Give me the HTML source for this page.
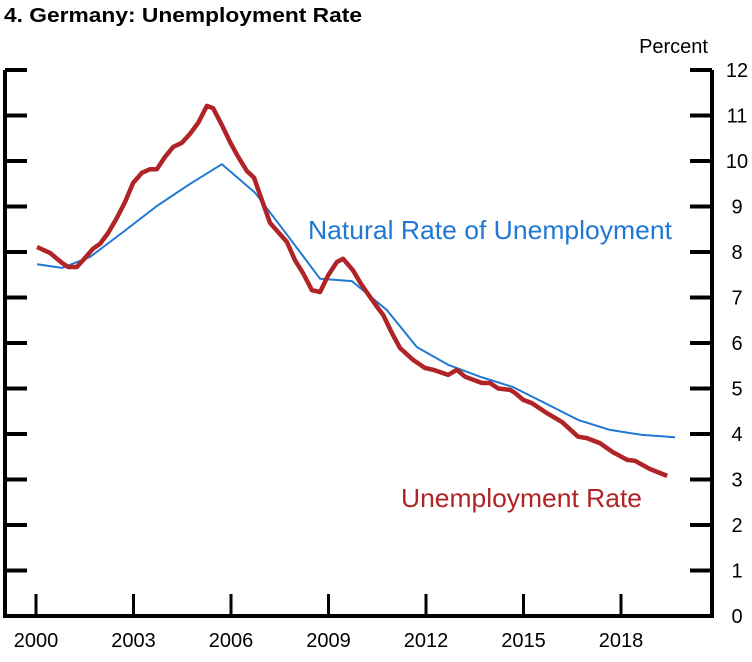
<!DOCTYPE html>
<html><head><meta charset="utf-8"><style>
body{margin:0;background:#fff;}
svg{display:block;font-family:"Liberation Sans",Arial,sans-serif;}
</style></head><body>
<svg id="chart" width="752" height="662">
<text x="4" y="22" font-size="20" font-weight="bold" textLength="358" lengthAdjust="spacingAndGlyphs">4. Germany: Unemployment Rate</text>
<text x="708" y="53" font-size="20" text-anchor="end">Percent</text>
<g id="axes"></g>
<g id="series"></g>
<text x="308" y="239" font-size="26" textLength="364" lengthAdjust="spacingAndGlyphs" fill="#2178d4">Natural Rate of Unemployment</text>
<text x="401" y="507" font-size="26" textLength="241" lengthAdjust="spacingAndGlyphs" fill="#b02326">Unemployment Rate</text>
</svg>
<script>
const yTicks=[0,1,2,3,4,5,6,7,8,9,10,11,12];
const xTickYears=[2000,2003,2006,2009,2012,2015,2018];
const unempYears=[2000.03,2000.43,2000.8,2000.99,2001.26,2001.51,2001.75,2001.97,2002.22,2002.49,2002.74,2002.99,2003.26,2003.51,2003.72,2003.97,2004.22,2004.49,2004.74,2004.99,2005.26,2005.45,2005.72,2005.97,2006.22,2006.49,2006.71,2006.95,2007.2,2007.45,2007.72,2007.97,2008.22,2008.49,2008.74,2008.99,2009.26,2009.45,2009.75,2010.0,2010.28,2010.49,2010.68,2010.95,2011.2,2011.6,2011.97,2012.22,2012.68,2012.95,2013.2,2013.72,2013.97,2014.22,2014.59,2014.74,2014.99,2015.26,2015.72,2016.19,2016.68,2016.95,2017.35,2017.75,2018.19,2018.43,2018.89,2019.42];
const unempRate=[8.11,7.98,7.76,7.67,7.67,7.87,8.07,8.18,8.42,8.75,9.1,9.52,9.74,9.82,9.82,10.09,10.31,10.4,10.6,10.84,11.21,11.16,10.79,10.42,10.09,9.78,9.63,9.14,8.64,8.44,8.22,7.82,7.53,7.16,7.12,7.49,7.78,7.85,7.6,7.3,7.01,6.8,6.62,6.22,5.89,5.63,5.45,5.41,5.3,5.41,5.26,5.12,5.12,5.0,4.97,4.9,4.75,4.68,4.46,4.26,3.94,3.91,3.8,3.6,3.43,3.41,3.23,3.08];
const naturalYears=[2000.03,2000.8,2001.66,2002.7,2003.72,2004.7,2005.72,2006.74,2007.7,2008.74,2009.72,2010.8,2011.72,2012.68,2013.66,2014.68,2015.66,2016.68,2017.66,2018.65,2019.66];
const naturalRate=[7.73,7.65,7.89,8.45,9.01,9.48,9.93,9.3,8.4,7.41,7.36,6.72,5.91,5.52,5.26,5.03,4.68,4.31,4.09,3.98,3.93];

const NS="http://www.w3.org/2000/svg";
const X0=36,PX_YEAR=32.5,Y0=616,PX_UNIT=45.5,LEFT=5,RIGHT=712;
function xs(yr){return X0+(yr-2000)*PX_YEAR;}
function ys(v){return Y0-v*PX_UNIT;}
function mk(tag,attrs,parent){const e=document.createElementNS(NS,tag);for(const k in attrs)e.setAttribute(k,attrs[k]);parent.appendChild(e);return e;}
const axes=document.getElementById('axes');
let el=mk('line',{x1:LEFT,y1:ys(12),x2:LEFT,y2:Y0+2,stroke:'#000','stroke-width':4},axes);


el=mk('line',{x1:RIGHT,y1:ys(12),x2:RIGHT,y2:Y0+2,stroke:'#000','stroke-width':4},axes);


el=mk('line',{x1:LEFT-2,y1:Y0,x2:RIGHT+2,y2:Y0,stroke:'#000','stroke-width':4},axes);


yTicks.forEach(t=>{
  if(t>0){
    let a=mk('line',{x1:LEFT,y1:ys(t),x2:LEFT+22,y2:ys(t),stroke:'#000','stroke-width':4},axes);
    
    
    let b=mk('line',{x1:RIGHT-22,y1:ys(t),x2:RIGHT,y2:ys(t),stroke:'#000','stroke-width':4},axes);
    
    
  }
  let tx=mk('text',{x:737,y:ys(t)+7,'font-size':20,'text-anchor':'middle'},axes);
  tx.textContent=t;
  
  
});
xTickYears.forEach(yr=>{
  let a=mk('line',{x1:xs(yr),y1:Y0,x2:xs(yr),y2:Y0-22,stroke:'#000','stroke-width':3},axes);
  
  
  let tx=mk('text',{x:xs(yr),y:Y0+31,'font-size':20,'text-anchor':'middle'},axes);
  tx.textContent=yr;
  
  
});
const series=document.getElementById('series');
let dN=naturalYears.map((yr,i)=>(i?'L':'M')+xs(yr).toFixed(1)+','+ys(naturalRate[i]).toFixed(1)).join('');
el=mk('path',{d:dN,fill:'none',stroke:'#2178d4','stroke-width':2,'stroke-linejoin':'round'},series);


let dU=unempYears.map((yr,i)=>(i?'L':'M')+xs(yr).toFixed(1)+','+ys(unempRate[i]).toFixed(1)).join('');
el=mk('path',{d:dU,fill:'none',stroke:'#b02326','stroke-width':4.5,'stroke-linejoin':'round'},series);


</script>
</body></html>
